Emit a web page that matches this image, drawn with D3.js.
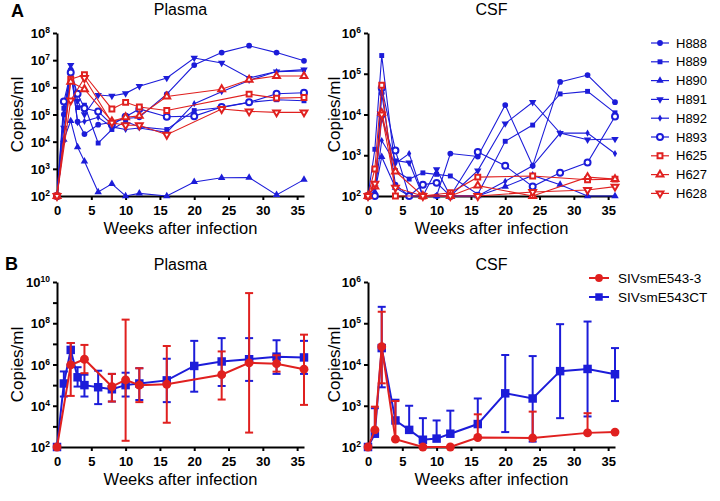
<!DOCTYPE html>
<html><head><meta charset="utf-8">
<script src="https://cdn.jsdelivr.net/npm/d3@7"></script>
<style>body{margin:0;background:#fff} svg{display:block}</style>
</head><body>
<script>
// ---------------- DATA ----------------
const animals = ["H888","H889","H890","H891","H892","H893","H625","H627","H628"];
const weekTicks = [0,5,10,15,20,25,30,35];

// Panel A – plasma (copies/ml)
const weeksPlasmaBlue = [0,1,2,3,4,6,8,10,12,16,20,24,28,32,36];
const weeksPlasmaRed  = [0,2,4,8,10,12,16,24,28,32,36];
const plasmaH888 = [1e2,1.0e5,4.4e6,5.5e4,1.9e4,4.2e4,5.2e4,7.1e4,7.9e4,5.6e5,6.6e6,1.9e7,3.4e7,1.9e7,9.5e6];
const plasmaH889 = [1e2,1.7e5,3.2e6,1.8e5,2.2e5,8.9e3,2.8e4,5.6e4,3.5e4,2.8e4,1.4e5,1.8e5,2.8e5,3.5e5,3.2e5];
const plasmaH890 = [1e2,1.2e4,5.8e4,6.3e3,1.9e3,140,280,100,125,100,330,470,480,110,400];
const plasmaH891 = [1e2,3.2e4,6.6e6,3.2e5,1.0e5,5.2e5,4.8e5,6.0e5,1.1e6,2.2e6,1.2e7,7.9e6,2.2e6,3.8e6,4.5e6];
const plasmaH892 = [1e2,1.0e4,5.0e6,5.0e4,5.6e4,7.9e4,3.5e4,2.8e4,3.2e4,2.2e4,2.5e5,6.9e5,1.8e6,3.8e6,4.0e6];
const plasmaH893 = [1e2,3.0e5,3.5e6,5.8e5,1.7e5,1.3e5,4.2e4,8.3e4,1.6e5,8.3e4,8.7e4,1.9e5,2.8e5,5.8e5,6.3e5];
const plasmaH625 = [1e2,2.0e6,2.9e6,1.6e5,2.8e5,1.9e5,1.4e5,null,5.6e5,4.0e5,4.2e5];
const plasmaH627 = [1e2,1.6e6,8.5e5,5.6e4,7.9e4,8.9e4,4.6e5,8.5e5,1.9e6,2.6e6,2.6e6];
const plasmaH628 = [1e2,3.3e5,2.2e6,5.0e4,4.0e4,4.0e4,1.8e4,1.6e5,1.3e5,1.2e5,1.2e5];

// Panel A – CSF (copies/ml)
const weeksCsfBlue = [0,1,2,4,6,8,10,12,16,20,24,28,32,36];
const weeksCsfRed  = [0,1,2,4,8,12,16,24,32,36];
const csfH888 = [100,100,3.3e4,190,100,100,100,1.1e3,930,1.7e4,550,6.3e4,9.3e4,2.0e4];
const csfH889 = [100,1.4e3,2.8e5,420,260,370,340,310,110,2.2e3,5.5e3,3.2e4,3.7e4,1.1e4];
const csfH890 = [100,125,910,160,100,100,100,100,100,170,320,190,100,100];
const csfH891 = [100,160,8.1e3,740,660,100,450,100,420,6.0e3,2.0e4,3.5e3,2.4e3,2.5e3];
const csfH892 = [100,125,2.3e3,630,1.1e3,100,100,100,100,230,550,3.5e3,3.5e3,1.1e3];
const csfH893 = [100,100,4.5e4,1.3e3,100,190,210,100,1.2e3,550,170,370,660,8.9e3];
const csfH625 = [100,460,5.2e4,100,100,120,290,310,250,260];
const csfH627 = [100,170,1.1e4,400,100,100,180,100,290,260];
const csfH628 = [100,200,1.0e4,160,100,100,100,125,140,170];

// Panel B – group means with error bars
const groups = ["SIVsmE543-3","SIVsmE543CT"];
const weeksPlasmaCT = [0,1,2,3,4,6,8,10,12,16,20,24,28,32,36];
const plasmaCTMean  = [100,1.2e5,5.1e6,2.4e5,1.0e5,7.9e4,6.3e4,1.0e5,1.2e5,1.7e5,8.5e5,1.4e6,1.8e6,2.4e6,2.2e6];
const plasmaCTUpper = [100,4.6e5,1.1e7,7.4e5,3.2e5,5.0e5,3.5e5,4.0e5,6.6e5,1.9e6,1.4e7,1.9e7,1.9e7,1.5e7,1.4e7];
const plasmaCTLower = [100,2.8e4,1.0e6,8.5e4,2.8e4,1.2e4,1.6e4,2.8e4,1.9e4,1.5e4,4.8e4,9.1e4,1.6e5,3.5e5,3.5e5];
const weeksPlasma3  = [0,2,4,8,10,12,16,24,28,32,36];
const plasma3Mean   = [100,9.5e5,1.8e6,8.5e4,1.8e5,1.0e5,1.1e5,3.2e5,1.2e6,1.1e6,5.9e5];
const plasma3Upper  = [100,1.1e7,8.9e6,3.5e5,1.5e8,6.6e5,7.9e6,4.3e6,2.9e9,2.8e6,2.8e7];
const plasma3Lower  = [100,3.0e4,3.8e5,1.6e4,200,1.5e4,1500,2.0e4,500,4.5e5,1.1e4];
const weeksCsfCT = [0,1,2,4,6,8,10,12,16,20,24,28,32,36];
const csfCTMean  = [100,210,2.5e4,440,260,150,160,210,360,2.0e3,1.5e3,6.9e3,7.8e3,5.8e3];
const csfCTUpper = [100,870,2.5e5,1.4e3,1.0e3,500,440,760,1.5e3,1.7e4,1.6e4,9.5e4,1.1e5,2.5e4];
const csfCTLower = [100,100,2.8e3,100,100,100,100,100,100,230,135,500,550,1.3e3];
const weeksCsf3 = [0,1,2,4,8,12,16,24,32,36];
const csf3Mean  = [100,260,2.7e4,155,100,100,170,165,220,230];
const csf3Upper = [100,950,1.9e5,1.3e3,100,100,620,720,660,230];
const csf3Lower = [100,100,3.5e3,100,100,100,100,100,100,230];

// ---------------- STYLE ----------------
const FONT = "Arial, 'Liberation Sans', Helvetica, sans-serif";
const BLUE = "#1c1cd9", RED = "#e0201f";
const styles = {
  H888:{shape:"circle",open:false,color:BLUE,size:26},
  H889:{shape:"square",open:false,color:BLUE,size:24},
  H890:{shape:"triangle",open:false,color:BLUE,size:24},
  H891:{shape:"down",open:false,color:BLUE,size:24},
  H892:{shape:"diamond",open:false,color:BLUE,size:15},
  H893:{shape:"circle",open:true,color:BLUE,size:28},
  H625:{shape:"square",open:true,color:RED,size:24},
  H627:{shape:"triangle",open:true,color:RED,size:20},
  H628:{shape:"down",open:true,color:RED,size:20}
};

const svg = d3.select("body").append("svg").attr("width",720).attr("height",501);
svg.append("rect").attr("width",720).attr("height",501).attr("fill","#fff");

const symMap = {circle:d3.symbolCircle,square:d3.symbolSquare,triangle:d3.symbolTriangle,down:d3.symbolTriangle,diamond:d3.symbolDiamond};
function drawMarker(g,x,y,st,sizeOverride){
  const p = g.append("path").attr("d", d3.symbol(symMap[st.shape], sizeOverride||st.size)())
    .attr("transform", `translate(${x},${y})` + (st.shape==="down" ? " rotate(180)" : ""));
  if (st.open) p.attr("fill","#fff").attr("stroke",st.color).attr("stroke-width",2);
  else p.attr("fill",st.color);
}

function makePanel(cfg){
  const x = d3.scaleLinear().domain([0,36]).range([cfg.x0,cfg.x1]);
  const y = d3.scaleLog().domain(cfg.yDomain).range([cfg.yBot,cfg.yTop]);
  const g = svg.append("g");
  const gx = g.append("g").attr("transform",`translate(0,${cfg.yBot})`)
    .call(d3.axisBottom(x).tickValues(weekTicks).tickSize(4).tickSizeOuter(0).tickPadding(6));
  const gy = g.append("g").attr("transform",`translate(${cfg.x0},0)`)
    .call(d3.axisLeft(y).tickValues(cfg.yTicks).tickSize(4).tickSizeOuter(0).tickFormat(()=>""));
  [gx,gy].forEach(a=>{
    a.select(".domain").attr("stroke","#000").attr("stroke-width",2);
    a.selectAll(".tick line").attr("stroke","#000").attr("stroke-width",2);
  });
  gx.selectAll("text").attr("font-family",FONT).attr("font-weight","bold").attr("font-size",13).attr("fill","#000");
  gy.selectAll(".tick").each(function(d){
    const e = Math.round(Math.log10(d));
    if (!cfg.labelExps.includes(e)) return;
    const t = d3.select(this).append("text").attr("x",-7).attr("y",4.5).attr("text-anchor","end")
      .attr("font-family",FONT).attr("font-weight","bold").attr("font-size",13).attr("fill","#000");
    t.append("tspan").text("10");
    t.append("tspan").attr("dy",-5).attr("font-size",8.5).text(e);
  });
  const cx = (cfg.x0+cfg.x1)/2;
  g.append("text").attr("x",cx).attr("y",cfg.titleY).attr("text-anchor","middle")
    .attr("font-family",FONT).attr("font-size",16).text(cfg.title);
  g.append("text").attr("x",cx).attr("y",cfg.yBot+38).attr("text-anchor","middle")
    .attr("font-family",FONT).attr("font-size",16.5).text("Weeks after infection");
  g.append("text").attr("transform",`translate(${cfg.ylabX},${(cfg.yTop+cfg.yBot)/2}) rotate(-90)`)
    .attr("text-anchor","middle").attr("font-family",FONT).attr("font-size",17).text("Copies/ml");
  return {x,y,g};
}

function drawIndividuals(p, series){
  series.forEach(s=>{
    const st = styles[s.name];
    const pts = s.weeks.map((w,i)=>({w,v:s.values[i]})).filter(d=>d.v!=null);
    p.g.append("path").datum(pts)
      .attr("d", d3.line().x(d=>p.x(d.w)).y(d=>p.y(d.v)))
      .attr("fill","none").attr("stroke",st.color).attr("stroke-width",1.1);
    pts.forEach(d=>drawMarker(p.g,p.x(d.w),p.y(d.v),st));
  });
}

function drawGroup(p, weeks, mean, upper, lower, color, shape){
  const g = p.g.append("g");
  weeks.forEach((w,i)=>{
    const xx = p.x(w);
    if (upper[i] > mean[i]) {
      g.append("line").attr("x1",xx).attr("x2",xx).attr("y1",p.y(mean[i])).attr("y2",p.y(upper[i])).attr("stroke",color).attr("stroke-width",2);
      g.append("line").attr("x1",xx-4).attr("x2",xx+4).attr("y1",p.y(upper[i])).attr("y2",p.y(upper[i])).attr("stroke",color).attr("stroke-width",2);
    }
    if (lower[i] < mean[i] && lower[i] > 100) {
      g.append("line").attr("x1",xx).attr("x2",xx).attr("y1",p.y(mean[i])).attr("y2",p.y(lower[i])).attr("stroke",color).attr("stroke-width",2);
      g.append("line").attr("x1",xx-4).attr("x2",xx+4).attr("y1",p.y(lower[i])).attr("y2",p.y(lower[i])).attr("stroke",color).attr("stroke-width",2);
    }
  });
  g.append("path").datum(weeks.map((w,i)=>[w,mean[i]]))
    .attr("d", d3.line().x(d=>p.x(d[0])).y(d=>p.y(d[1])))
    .attr("fill","none").attr("stroke",color).attr("stroke-width",2);
  const st = {shape,open:false,color,size: shape==="square"?72:62};
  weeks.forEach((w,i)=>drawMarker(g,p.x(w),p.y(mean[i]),st));
}

// ---------- Panel A ----------
const pA1 = makePanel({x0:57,x1:304,yTop:33,yBot:196,yDomain:[1e2,1e8],
  yTicks:[1e2,1e3,1e4,1e5,1e6,1e7,1e8],labelExps:[2,3,4,5,6,7,8],title:"Plasma",titleY:15,ylabX:23});
const pA2 = makePanel({x0:368,x1:615,yTop:33,yBot:196,yDomain:[1e2,1e6],
  yTicks:[1e2,1e3,1e4,1e5,1e6],labelExps:[2,3,4,5,6],title:"CSF",titleY:15,ylabX:340});

const plasmaVals = [plasmaH888,plasmaH889,plasmaH890,plasmaH891,plasmaH892,plasmaH893,plasmaH625,plasmaH627,plasmaH628];
const csfVals = [csfH888,csfH889,csfH890,csfH891,csfH892,csfH893,csfH625,csfH627,csfH628];
drawIndividuals(pA1, animals.map((n,i)=>({name:n,weeks:i<6?weeksPlasmaBlue:weeksPlasmaRed,values:plasmaVals[i]})));
drawIndividuals(pA2, animals.map((n,i)=>({name:n,weeks:i<6?weeksCsfBlue:weeksCsfRed,values:csfVals[i]})));

// legend A
const legA = svg.append("g");
animals.forEach((n,i)=>{
  const yy = 43 + i*18.8, st = styles[n];
  legA.append("line").attr("x1",651).attr("x2",669).attr("y1",yy).attr("y2",yy).attr("stroke",st.color).attr("stroke-width",1.2);
  drawMarker(legA,660,yy,st);
  legA.append("text").attr("x",676).attr("y",yy+4.5).attr("font-family",FONT).attr("font-size",13).text(n);
});

// ---------- Panel B ----------
const pB1 = makePanel({x0:57,x1:304,yTop:282,yBot:447,yDomain:[1e2,1e10],
  yTicks:[1e2,1e3,1e4,1e5,1e6,1e7,1e8,1e9,1e10],labelExps:[2,4,6,8,10],title:"Plasma",titleY:270,ylabX:23});
const pB2 = makePanel({x0:368,x1:615,yTop:282,yBot:447,yDomain:[1e2,1e6],
  yTicks:[1e2,1e3,1e4,1e5,1e6],labelExps:[2,3,4,5,6],title:"CSF",titleY:270,ylabX:340});
drawGroup(pB1, weeksPlasmaCT, plasmaCTMean, plasmaCTUpper, plasmaCTLower, BLUE, "square");
drawGroup(pB1, weeksPlasma3, plasma3Mean, plasma3Upper, plasma3Lower, RED, "circle");
drawGroup(pB2, weeksCsfCT, csfCTMean, csfCTUpper, csfCTLower, BLUE, "square");
drawGroup(pB2, weeksCsf3, csf3Mean, csf3Upper, csf3Lower, RED, "circle");

// legend B
const legB = svg.append("g");
[[groups[0],RED,"circle"],[groups[1],BLUE,"square"]].forEach((d,i)=>{
  const yy = 278 + i*19;
  legB.append("line").attr("x1",589).attr("x2",609).attr("y1",yy).attr("y2",yy).attr("stroke",d[1]).attr("stroke-width",2);
  drawMarker(legB,599,yy,{shape:d[2],open:false,color:d[1],size:d[2]==="square"?56:48});
  legB.append("text").attr("x",618).attr("y",yy+5).attr("font-family",FONT).attr("font-size",13.5).text(d[0]);
});

// panel letters
svg.append("text").attr("x",11).attr("y",17).attr("font-family",FONT).attr("font-weight","bold").attr("font-size",18).text("A");
svg.append("text").attr("x",5).attr("y",270).attr("font-family",FONT).attr("font-weight","bold").attr("font-size",18).text("B");
</script>
</body></html>
